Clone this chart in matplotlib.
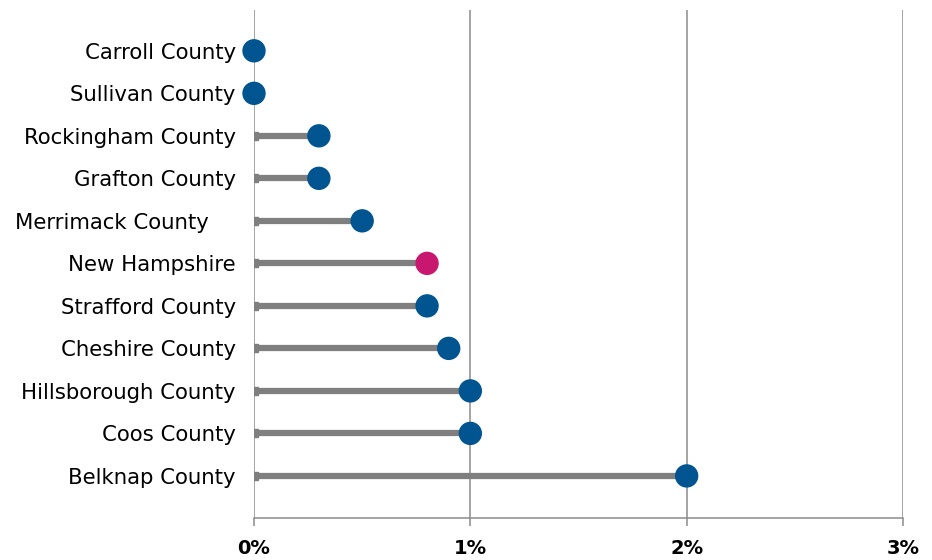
import numpy as np
from matplotlib import pyplot as plt

# county names, top to bottom
counties = [
    "Carroll County",
    "Sullivan County",
    "Rockingham County",
    "Grafton County",
    "Merrimack County    ",
    "New Hampshire",
    "Strafford County",
    "Cheshire County",
    "Hillsborough County",
    "Coos County",
    "Belknap County",
]
# values in percent
values = [0.0, 0.0, 0.3, 0.3, 0.5, 0.8, 0.8, 0.9, 1.0, 1.0, 2.0]
x_ticks = [0, 1, 2, 3]
x_tick_labels = ["0%", "1%", "2%", "3%"]

blue = "#00548f"
pink = "#c8176f"
stem_gray = "#7f7f7f"
grid_gray = "#8c8c8c"

plt.rcParams["font.family"] = ["DejaVu Sans"]

fig = plt.figure(figsize=(9.32, 5.6), dpi=100)
ax = fig.add_axes([254 / 932, 1 - 518 / 560, (903 - 254) / 932, (518 - 10) / 560])

y = np.arange(len(counties))

# grid lines
for xt in x_ticks:
    ax.axvline(xt, color=grid_gray, linewidth=1.1, zorder=1)

# stems
for yi, val in zip(y, values):
    if val > 0:
        ax.plot([0, val], [yi, yi], color=stem_gray, linewidth=4.5, solid_capstyle="butt", zorder=2)
        ax.plot(0, yi, marker="s", markersize=5.5, color=stem_gray, zorder=2)

# dots
colors = [pink if c.strip() == "New Hampshire" else blue for c in counties]
ax.scatter(values, y, s=250, color=colors, zorder=3, clip_on=False)

ax.set_xlim(0, 3)
ax.set_ylim(10.99, -0.96)
ax.set_yticks(y)
ax.set_yticklabels(counties, fontsize=15.3)
ax.set_xticks(x_ticks)
ax.set_xticklabels(x_tick_labels, fontsize=14, fontweight="bold")

ax.tick_params(axis="y", length=0, pad=13)
ax.tick_params(axis="x", length=6, color=grid_gray, width=1.1, pad=9)

for side in ["top", "right", "left"]:
    ax.spines[side].set_visible(False)
ax.spines["bottom"].set_color(grid_gray)
ax.spines["bottom"].set_linewidth(1.1)

fig.savefig("out.png", dpi=100)
